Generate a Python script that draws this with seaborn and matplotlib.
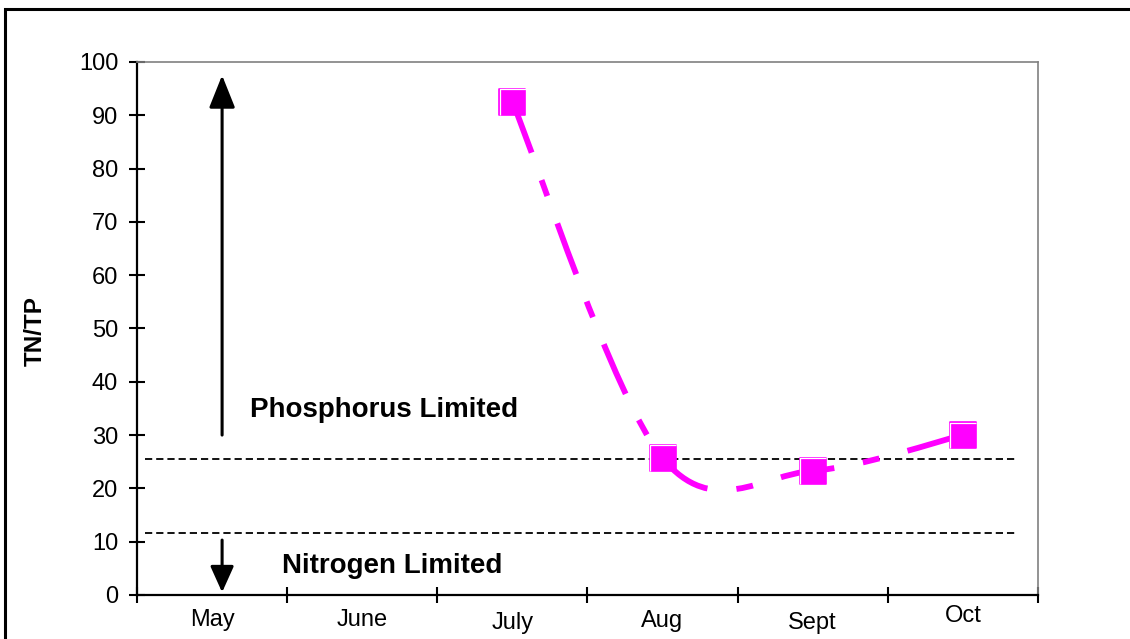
import matplotlib
matplotlib.use("Agg")
import matplotlib.pyplot as plt
import seaborn as sns
import pandas as pd
import numpy as np
from matplotlib.path import Path
from matplotlib.patches import PathPatch, Rectangle
from matplotlib.markers import MarkerStyle
from matplotlib.transforms import ScaledTranslation

# data
months = ["May", "June", "July", "Aug", "Sept", "Oct"]
sample_months = ["July", "Aug", "Sept", "Oct"]
tn_tp = [92.5, 25.7, 23.3, 30.0]
limit_lines = [25.6, 11.6]          # P-limited / N-limited thresholds
yticks = list(range(0, 101, 10))

MAGENTA = "#FF00FF"

sns.set_theme(style="white")
plt.rcParams["font.family"] = ["Liberation Sans", "DejaVu Sans"]

fig = plt.figure(figsize=(11.3, 6.39), dpi=100)
ax = fig.add_axes([0.1212, 0.0689, 0.7973, 0.8341])

df = pd.DataFrame({"month": sample_months, "ratio": tn_tp})
df["pos"] = [months.index(m) for m in df["month"]]

# smoothed line (bezier through the points, like Excel's "smoothed line")
pts = df[["pos", "ratio"]].to_numpy(float)
n = len(pts)
verts = [pts[0]]
codes = [Path.MOVETO]
for i in range(n - 1):
    p_prev = pts[max(i - 1, 0)]
    p_next2 = pts[min(i + 2, n - 1)]
    c1 = pts[i] + (pts[i + 1] - p_prev) / 6
    c2 = pts[i + 1] - (p_next2 - pts[i]) / 6
    verts += [c1, c2, pts[i + 1]]
    codes += [Path.CURVE4] * 3
ax.add_patch(PathPatch(Path(verts, codes), fill=False, edgecolor=MAGENTA,
                       lw=4.2, linestyle=(0, (9.3, 5.0, 2.9, 5.0)),
                       capstyle="butt", zorder=2))

# square markers
sns.scatterplot(data=df, x="pos", y="ratio", marker="s", s=19 ** 2,
                color=MAGENTA, edgecolor=MAGENTA, linewidth=1.2,
                zorder=3, ax=ax, legend=False)
# white highlight on top/left edge of each marker
hl = MarkerStyle(Path([(-0.4, -0.42), (-0.4, 0.4), (0.42, 0.4)],
                      [Path.MOVETO, Path.LINETO, Path.LINETO]))
ax.scatter(df["pos"], df["ratio"], marker=hl, s=19 ** 2, facecolors="none",
           edgecolors="white", linewidths=0.9, zorder=4)

# threshold lines
for y in limit_lines:
    ax.axhline(y, xmin=0.009, xmax=0.975, color="black", lw=1.3,
               dashes=(4.0, 2.2), zorder=1)

# arrows + labels
arrow_x = 0.067
ax.annotate("", xy=(arrow_x, 97.5), xytext=(arrow_x, 30),
            arrowprops=dict(arrowstyle="-|>,head_length=1.0,head_width=0.4",
                            mutation_scale=20, lw=2.2, color="black",
                            shrinkA=0, shrinkB=0))
ax.annotate("", xy=(arrow_x, 0.5), xytext=(arrow_x, 10.3),
            arrowprops=dict(arrowstyle="-|>,head_length=0.8,head_width=0.36",
                            mutation_scale=20, lw=2.2, color="black",
                            shrinkA=0, shrinkB=0))
ax.text(0.253, 34.7, "Phosphorus Limited", fontsize=20, fontweight="bold",
        ha="left", va="center", color="black")
ax.text(0.466, 5.4, "Nitrogen Limited", fontsize=20, fontweight="bold",
        ha="left", va="center", color="black")

# axes
ax.set_xlim(-0.5, 5.5)
ax.set_ylim(0, 100)
ax.set_yticks(yticks)
ax.set_xticks(np.arange(-0.5, 6, 1))
ax.set_xticklabels([])
ax.set_xticks(range(len(months)), minor=True)
ax.set_xticklabels(months, minor=True)
ax.tick_params(axis="x", which="major", bottom=True, direction="inout",
               length=11, width=1.5, color="black")
ax.tick_params(axis="x", which="minor", bottom=True, length=0, pad=8.6,
               labelsize=17, labelcolor="black")
ax.tick_params(axis="y", left=True, direction="inout", length=11, width=1.5,
               color="black", pad=8, labelsize=17, labelcolor="black")
ax.set_xlabel("")
ax.set_ylabel("TN/TP", fontsize=17.5, fontweight="bold", color="black")
ax.yaxis.set_label_coords(-0.1, 0.495)

# the month labels sit at slightly uneven heights in the original
label_shift_px = [2, 2, 5, 3, 5, -2]
for lbl, dy in zip(ax.get_xticklabels(minor=True), label_shift_px):
    lbl.set_transform(lbl.get_transform()
                      + ScaledTranslation(0, -dy / 100, fig.dpi_scale_trans))

for side in ["left", "bottom"]:
    ax.spines[side].set_color("black")
    ax.spines[side].set_linewidth(1.6)
for side in ["top", "right"]:
    ax.spines[side].set_color("#808080")
    ax.spines[side].set_linewidth(1.2)

# outer frame (left + top edges visible)
fig.add_artist(Rectangle((5 / 1130, -0.5), 2, 0.5 + 1 - 9 / 639,
                         transform=fig.transFigure, fill=False, lw=2.2,
                         edgecolor="black"))

fig.savefig("out.png", dpi=100)
